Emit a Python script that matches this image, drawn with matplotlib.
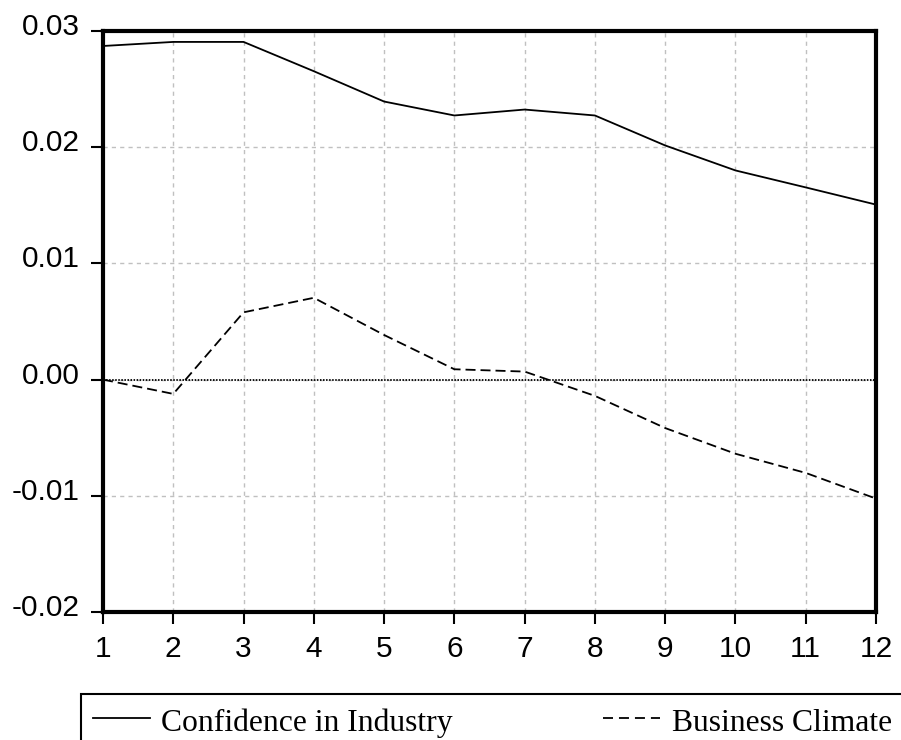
import matplotlib
matplotlib.use('Agg')
from matplotlib.pyplot import figure
from matplotlib.lines import Line2D
from matplotlib.patches import Rectangle
from matplotlib.transforms import ScaledTranslation

matplotlib.rcParams['lines.scale_dashes'] = False

periods = list(range(1, 13))
confidence = [0.02871, 0.02906, 0.02906, 0.02654, 0.02393, 0.02273,
              0.02324, 0.02273, 0.02015, 0.01800, 0.01654, 0.01506]
climate = [0.0, -0.00123, 0.00579, 0.00704, 0.00384, 0.00089,
           0.00069, -0.00140, -0.00417, -0.00638, -0.00803, -0.01024]
yticks = [-0.02, -0.01, 0.00, 0.01, 0.02, 0.03]
ylabels = ['-0.02', '-0.01', '0.00', '0.01', '0.02', '0.03']
names = ['Confidence in Industry', 'Business Climate']

W, H = 901, 740
fg = figure(figsize=(W/100, H/100), dpi=100)
ax = fg.add_axes([103/W, 1-612/H, (876-103)/W, (612-31)/H])

ax.plot(periods, confidence, color='k', lw=1.3, zorder=3)
ax.plot(periods, climate, color='k', lw=1.3, dashes=(7.2, 3.6), zorder=3)
ax.axhline(0, color='k', lw=1.3, dashes=(1.1, 1.1), zorder=2)

ax.set_xlim(1, 12)
ax.set_ylim(-0.02, 0.03)
ax.set_xticks(periods)
ax.set_yticks(yticks)
ax.set_yticklabels(ylabels)
ax.grid(True, color='#c0c0c0', lw=1.0, dashes=(3, 3))
for sp in ax.spines.values():
    sp.set_linewidth(3.0)
ax.tick_params(direction='out', length=8.6, width=1.5, pad=8,
               labelsize=21.5, labelfontfamily='Liberation Sans')
ax.tick_params(axis='x', pad=8)
# value labels sit a little above their tick marks
lift = ScaledTranslation(0, 0.07, fg.dpi_scale_trans)
for lab in ax.get_yticklabels():
    lab.set_transform(lab.get_transform() + lift)

# legend strip below the plot, running off the right and bottom edges
fx = lambda px: px / W
fy = lambda py: 1 - py / H
fg.patches.append(Rectangle((fx(81), fy(760)), fx(900), (760-694)/H,
                            transform=fg.transFigure, fill=False,
                            ec='k', lw=1.5, clip_on=False))
fg.add_artist(Line2D([fx(93), fx(150)], [fy(718), fy(718)],
                     transform=fg.transFigure, color='k', lw=1.3))
fg.text(fx(161), fy(731), names[0], transform=fg.transFigure,
        family='Liberation Serif', fontsize=22.8, va='baseline', ha='left')
fg.add_artist(Line2D([fx(603), fx(660)], [fy(718), fy(718)],
                     transform=fg.transFigure, color='k', lw=1.3,
                     dashes=(7.2, 4.3)))
fg.text(fx(672), fy(731), names[1], transform=fg.transFigure,
        family='Liberation Serif', fontsize=22.8, va='baseline', ha='left')

fg.savefig('out.png', dpi=100)
